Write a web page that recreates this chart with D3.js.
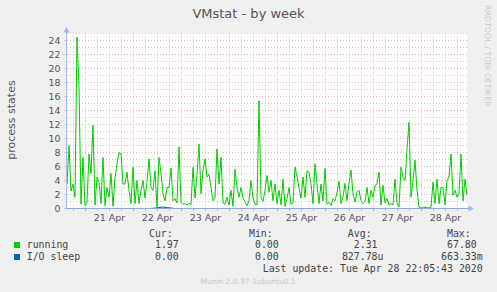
<!DOCTYPE html>
<html>
<head>
<meta charset="utf-8">
<script src="https://cdn.jsdelivr.net/npm/d3@7"></script>
<style>
  body { margin: 0; background: #f0f0f0; }
  svg text { font-family: "DejaVu Sans", sans-serif; }
  svg text.mono { font-family: "DejaVu Sans Mono", monospace; }
</style>
</head>
<body>
<div id="chart"></div>
<script>
var svgWidth = 497;
var svgHeight = 292;

// One "running" sample per hour, first one at 20 Apr 14:45 UTC
var startTime = new Date(Date.UTC(2020, 3, 20, 14, 45));
var endTime = new Date(Date.UTC(2020, 3, 28, 22, 45));

var dayLabels = ["21 Apr", "22 Apr", "23 Apr", "24 Apr", "25 Apr", "26 Apr", "27 Apr", "28 Apr"];
var yTickValues = [0, 2, 4, 6, 8, 10, 12, 14, 16, 18, 20, 22, 24];

var running = [
  3.5, 9, 2.5, 3.5, 1.6, 24.5, 17.3, 0.6, 7.3, 0.4,
  0.8, 7.8, 5, 11.9, 0.5, 4.5, 3.8, 0.7, 7.3, 0.4,
  3, 1.6, 5, 0.3, 4.4, 6.4, 8, 7.8, 3.5, 3.5,
  5.2, 2.6, 0.7, 5.9, 0.7, 4, 0.7, 2.6, 4, 1.5,
  3.75, 7.1, 3, 2.6, 5.4, 0.2, 7.3, 5, 2.1, 1.1,
  3, 3, 5.8, 1.1, 1.4, 0.8, 8.8, 0.9, 0.6,
  0.7, 0.5, 0.7, 0.6, 5.9, 1.5, 4.9, 9.2, 2.1, 5.4,
  7.1, 4.5, 4.9, 3, 1.1, 1.5, 8.5, 3.5, 7.3, 0.8,
  0.6, 1.6, 0.5, 2.6, 0.3, 5.6, 3, 1.6, 3,
  1.5, 0.9, 0.4, 1.1, 4, 1.5, 0.6, 0.5, 15.4, 1.6,
  1, 2.6, 4.7, 2.3, 4, 1.1, 3.5, 0.7, 2.6, 0.5,
  4.2, 0.3, 1.4, 3, 0.6, 0.8, 5.9, 4.6, 3,
  1.5, 4.5, 1.6, 5.4, 5.2, 3.5, 0.7, 6.4, 3.5, 0.7,
  3.5, 1.1, 5.7, 0.6, 0.9, 0.4, 1.4, 1.1, 2.3, 3.9,
  0.7, 1.6, 3.6, 1.1, 3.6, 5.5, 2.1, 0.9, 2.3,
  2.6, 1.1, 0.7, 1, 3, 0.7, 2.6, 1.6, 3.3, 3.5,
  5.2, 0.5, 3.3, 0.8, 1.4, 0.5, 0.7, 0.5, 4.2, 0.8,
  0.2, 5.9, 4.5, 4, 8.5, 12.3, 1.6, 3.9, 6.9,
  2.6, 0.2, 0.1, 0.1, 0.15, 0.1, 0.1, 0.15, 3.75, 0.7,
  4.2, 0.7, 3, 3, 0.5, 4, 4.5, 7.8, 1.9, 2.6,
  1.6, 2.1, 7.8, 1.1, 4.2, 1.97
];

// I/O sleep, one sample every 6 hours (almost always zero)
var ioSleep = [
  0, 0, 0, 0, 0, 0, 0, 0, 0.2, 0,
  0, 0, 0, 0, 0, 0, 0, 0, 0, 0,
  0, 0, 0, 0, 0, 0, 0, 0, 0, 0,
  0, 0, 0, 0
];

var seriesNames = ["running", "I/O sleep"];
var seriesColors = ["#00cc00", "#0066b3"];
var statHeaders = ["Cur:", "Min:", "Avg:", "Max:"];
var runningStats = ["1.97", "0.00", "2.31", "67.80"];
var ioSleepStats = ["0.00", "0.00", "827.78u", "663.33m"];
var lastUpdate = "Last update: Tue Apr 28 22:05:43 2020";

var svg = d3.select("#chart")
  .append("svg")
  .attr("width", svgWidth)
  .attr("height", svgHeight);

svg.append("rect")
  .attr("width", svgWidth)
  .attr("height", svgHeight)
  .attr("fill", "#f0f0f0");

var xScale = d3.scaleUtc()
  .domain([startTime, endTime])
  .range([67, 467]);

var yScale = d3.scaleLinear()
  .domain([0, 25])
  .range([208.5, 33.5]);

// white canvas
svg.append("rect")
  .attr("x", 67)
  .attr("y", 33)
  .attr("width", 400)
  .attr("height", 176)
  .attr("fill", "#ffffff");

/* ---------------- grid ---------------- */
var gridGroup = svg.append("g");

gridGroup.selectAll(".hgrid")
  .data(d3.range(1, 26))
  .enter()
  .append("line")
  .attr("x1", 67)
  .attr("x2", 467)
  .attr("y1", d => yScale(d))
  .attr("y2", d => yScale(d))
  .attr("stroke", d => d % 2 === 0 ? "#f2a9a9" : "#ebbaba")
  .attr("stroke-dasharray", "1,2");

var sixHours = d3.utcHour.every(6).range(new Date(+startTime + 1), endTime);

gridGroup.selectAll(".vgrid")
  .data(sixHours)
  .enter()
  .append("line")
  .attr("x1", d => Math.round(xScale(d) - 0.5) + 0.5)
  .attr("x2", d => Math.round(xScale(d) - 0.5) + 0.5)
  .attr("y1", 33.5)
  .attr("y2", 210.5)
  .attr("stroke", d => d.getUTCHours() === 0 ? "#f0a0a0" : "#c8c8c8")
  .attr("stroke-dasharray", "1,2");

/* ---------------- series ---------------- */
var runLine = d3.line()
  .x((d, i) => xScale(d3.utcHour.offset(startTime, i)))
  .y(d => yScale(d));

svg.append("path")
  .datum(running)
  .attr("d", runLine)
  .attr("fill", "none")
  .attr("stroke", seriesColors[0])
  .attr("stroke-width", 1)
  .attr("stroke-linejoin", "round");

var ioLine = d3.line()
  .x((d, i) => Math.min(467, xScale(d3.utcHour.offset(startTime, i * 6))))
  .y(d => yScale(d));

svg.append("path")
  .datum(ioSleep)
  .attr("d", ioLine)
  .attr("fill", "none")
  .attr("stroke", seriesColors[1])
  .attr("stroke-width", 1);

/* ---------------- axes ---------------- */
var axisColour = "#a8b6ee";

svg.append("line")
  .attr("x1", 66.5).attr("x2", 66.5)
  .attr("y1", 208.5).attr("y2", 30)
  .attr("stroke", axisColour);

svg.append("path")
  .attr("d", "M63.5,32.5 L69.5,32.5 L66.5,27 Z")
  .attr("fill", axisColour);

svg.append("line")
  .attr("x1", 64).attr("x2", 470)
  .attr("y1", 208.5).attr("y2", 208.5)
  .attr("stroke", "#8fa8e6");

svg.append("path")
  .attr("d", "M468.5,205.5 L468.5,211.5 L474,208.5 Z")
  .attr("fill", axisColour);

// little ticks under the x axis
svg.selectAll(".xtick")
  .data(sixHours)
  .enter()
  .append("line")
  .attr("x1", d => Math.round(xScale(d) - 0.5) + 0.5)
  .attr("x2", d => Math.round(xScale(d) - 0.5) + 0.5)
  .attr("y1", 209)
  .attr("y2", 211)
  .attr("stroke", d => d.getUTCHours() === 0 ? "#e88080" : "#bbbbbb");

// y tick labels
svg.selectAll(".ylabel")
  .data(yTickValues)
  .enter()
  .append("text")
  .attr("x", 60.5)
  .attr("y", d => yScale(d) + 3.4)
  .attr("text-anchor", "end")
  .attr("font-size", "9.4px")
  .attr("fill", "#555")
  .text(d => d);

svg.selectAll(".ytick")
  .data(yTickValues)
  .enter()
  .append("line")
  .attr("x1", 64).attr("x2", 66)
  .attr("y1", d => yScale(d))
  .attr("y2", d => yScale(d))
  .attr("stroke", "#ccccee");

// day labels, centred at noon
var days = d3.utcDay.range(new Date(+startTime + 1), endTime);

svg.selectAll(".xlabel")
  .data(days)
  .enter()
  .append("text")
  .attr("x", d => xScale(d3.utcHour.offset(d, 12)))
  .attr("y", 221)
  .attr("text-anchor", "middle")
  .attr("font-size", "9.5px")
  .attr("fill", "#555")
  .text((d, i) => dayLabels[i]);

/* ---------------- titles ---------------- */
svg.append("text")
  .attr("x", 248.5)
  .attr("y", 18)
  .attr("text-anchor", "middle")
  .attr("font-size", "13px")
  .attr("fill", "#555")
  .text("VMstat - by week");

svg.append("text")
  .attr("transform", "translate(15, 120) rotate(-90)")
  .attr("text-anchor", "middle")
  .attr("font-size", "11px")
  .attr("fill", "#555")
  .text("process states");

svg.append("text")
  .attr("transform", "translate(485, 5) rotate(90)")
  .attr("font-size", "7.9px")
  .attr("fill", "#cccccc")
  .text("RRDTOOL / TOBI OETIKER");

/* ---------------- legend ---------------- */
var charW = 0.602 * 9.9;
var colEnds = [184.7, 284.7, 383.5, 482.7];

svg.selectAll(".header")
  .data(statHeaders)
  .enter()
  .append("text")
  .attr("class", "mono")
  .attr("x", (d, i) => colEnds[i] - 2 * charW)
  .attr("y", 237)
  .attr("text-anchor", "end")
  .attr("font-size", "9.9px")
  .attr("fill", "#444")
  .text(d => d);

[runningStats, ioSleepStats].forEach(function(stats, row) {
  var rowY = 248 + row * 12;

  svg.append("rect")
    .attr("x", 14)
    .attr("y", rowY - 6)
    .attr("width", 6)
    .attr("height", 6)
    .attr("fill", seriesColors[row]);

  svg.append("text")
    .attr("class", "mono")
    .attr("x", 26.7)
    .attr("y", rowY)
    .attr("font-size", "9.9px")
    .attr("fill", "#444")
    .text(seriesNames[row]);

  svg.selectAll(".stat" + row)
    .data(stats)
    .enter()
    .append("text")
    .attr("class", "mono")
    .attr("x", (d, i) => /[a-z]$/.test(d) ? colEnds[i] : colEnds[i] - charW)
    .attr("y", rowY)
    .attr("text-anchor", "end")
    .attr("font-size", "9.9px")
    .attr("fill", "#444")
    .text(d => d);
});

svg.append("text")
  .attr("class", "mono")
  .attr("x", 482.7)
  .attr("y", 272.3)
  .attr("text-anchor", "end")
  .attr("font-size", "9.9px")
  .attr("fill", "#444")
  .text(lastUpdate);

svg.append("text")
  .attr("x", 248)
  .attr("y", 284)
  .attr("text-anchor", "middle")
  .attr("font-size", "7.5px")
  .attr("fill", "#c8c8c8")
  .text("Munin 2.0.37-1ubuntu0.1");
</script>
</body>
</html>
